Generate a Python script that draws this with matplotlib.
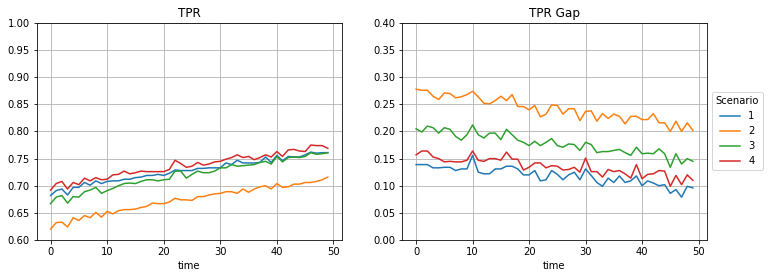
import numpy as np
import matplotlib
matplotlib.use("Agg")
import matplotlib.pyplot as plt

time = np.arange(50)
scenarios = ["1", "2", "3", "4"]

# TPR per scenario
tpr_1 = [0.682, 0.691, 0.694, 0.683, 0.697, 0.697, 0.706, 0.701, 0.709, 0.704,
         0.708, 0.709, 0.709, 0.712, 0.712, 0.715, 0.716, 0.719, 0.719, 0.721,
         0.719, 0.723, 0.729, 0.728, 0.728, 0.728, 0.732, 0.732, 0.733, 0.733,
         0.733, 0.742, 0.739, 0.747, 0.742, 0.742, 0.742, 0.743, 0.753, 0.743,
         0.756, 0.746, 0.754, 0.753, 0.753, 0.757, 0.762, 0.760, 0.761, 0.761]
tpr_2 = [0.620, 0.632, 0.633, 0.624, 0.641, 0.636, 0.645, 0.641, 0.651, 0.642,
         0.653, 0.648, 0.654, 0.656, 0.656, 0.657, 0.660, 0.662, 0.668, 0.667,
         0.667, 0.670, 0.677, 0.674, 0.674, 0.673, 0.680, 0.680, 0.683, 0.685,
         0.686, 0.689, 0.689, 0.686, 0.694, 0.688, 0.694, 0.698, 0.700, 0.694,
         0.704, 0.697, 0.698, 0.703, 0.703, 0.706, 0.706, 0.708, 0.711, 0.716]
tpr_3 = [0.667, 0.679, 0.682, 0.668, 0.680, 0.679, 0.689, 0.692, 0.697, 0.686,
         0.691, 0.695, 0.700, 0.704, 0.705, 0.704, 0.708, 0.711, 0.711, 0.709,
         0.711, 0.712, 0.727, 0.727, 0.714, 0.721, 0.727, 0.724, 0.724, 0.727,
         0.733, 0.733, 0.739, 0.736, 0.737, 0.738, 0.739, 0.743, 0.745, 0.740,
         0.754, 0.744, 0.752, 0.753, 0.752, 0.754, 0.761, 0.758, 0.759, 0.761]
tpr_4 = [0.692, 0.704, 0.708, 0.694, 0.706, 0.702, 0.714, 0.709, 0.715, 0.711,
         0.712, 0.720, 0.721, 0.727, 0.722, 0.724, 0.727, 0.726, 0.726, 0.726,
         0.726, 0.730, 0.747, 0.741, 0.734, 0.736, 0.743, 0.738, 0.740, 0.744,
         0.745, 0.749, 0.752, 0.757, 0.752, 0.754, 0.748, 0.752, 0.757, 0.753,
         0.763, 0.754, 0.766, 0.767, 0.764, 0.763, 0.775, 0.774, 0.774, 0.769]

# TPR gap per scenario
gap_1 = [0.139, 0.139, 0.139, 0.133, 0.133, 0.134, 0.134, 0.128, 0.131, 0.131,
         0.156, 0.125, 0.122, 0.122, 0.131, 0.131, 0.136, 0.136, 0.131, 0.120,
         0.120, 0.128, 0.109, 0.111, 0.128, 0.121, 0.111, 0.120, 0.125, 0.111,
         0.131, 0.119, 0.106, 0.099, 0.114, 0.106, 0.118, 0.106, 0.109, 0.118,
         0.100, 0.109, 0.105, 0.100, 0.102, 0.086, 0.093, 0.079, 0.099, 0.096]
gap_2 = [0.278, 0.276, 0.276, 0.265, 0.259, 0.271, 0.270, 0.262, 0.264, 0.268,
         0.274, 0.264, 0.252, 0.251, 0.257, 0.265, 0.257, 0.268, 0.246, 0.246,
         0.240, 0.248, 0.227, 0.232, 0.249, 0.248, 0.232, 0.242, 0.242, 0.220,
         0.237, 0.238, 0.219, 0.233, 0.224, 0.232, 0.228, 0.214, 0.228, 0.228,
         0.222, 0.222, 0.233, 0.216, 0.216, 0.200, 0.219, 0.200, 0.216, 0.202]
gap_3 = [0.205, 0.199, 0.210, 0.207, 0.197, 0.207, 0.204, 0.191, 0.184, 0.194,
         0.212, 0.194, 0.188, 0.197, 0.197, 0.185, 0.204, 0.194, 0.184, 0.180,
         0.174, 0.182, 0.174, 0.180, 0.187, 0.174, 0.171, 0.177, 0.176, 0.165,
         0.180, 0.176, 0.161, 0.163, 0.163, 0.165, 0.167, 0.161, 0.156, 0.171,
         0.159, 0.160, 0.159, 0.168, 0.159, 0.134, 0.159, 0.140, 0.150, 0.145]
gap_4 = [0.157, 0.164, 0.164, 0.153, 0.150, 0.144, 0.145, 0.144, 0.144, 0.147,
         0.164, 0.147, 0.145, 0.150, 0.150, 0.147, 0.162, 0.149, 0.149, 0.129,
         0.134, 0.142, 0.142, 0.133, 0.137, 0.136, 0.129, 0.130, 0.134, 0.125,
         0.151, 0.126, 0.126, 0.116, 0.130, 0.126, 0.128, 0.122, 0.114, 0.139,
         0.113, 0.121, 0.122, 0.128, 0.127, 0.099, 0.119, 0.102, 0.120, 0.110]

fig = plt.figure(figsize=(769 / 72, 278 / 72), dpi=72)
ax1 = fig.add_axes([0.0477, 0.1367, 0.3966, 0.7806])
ax2 = fig.add_axes([0.5231, 0.1367, 0.3959, 0.7806])

for name, vals in zip(scenarios, [tpr_1, tpr_2, tpr_3, tpr_4]):
    ax1.plot(time, vals, label=name)
for name, vals in zip(scenarios, [gap_1, gap_2, gap_3, gap_4]):
    ax2.plot(time, vals, label=name)

ax1.set_ylim(0.6, 1.0)
ax2.set_ylim(0.0, 0.4)
ax1.set_title("TPR")
ax2.set_title("TPR Gap")
for ax in (ax1, ax2):
    ax.set_xlabel("time")
    ax.set_xticks([0, 10, 20, 30, 40, 50])
    ax.yaxis.set_major_formatter(matplotlib.ticker.FormatStrFormatter("%.2f"))
    ax.grid(True)

ax2.legend(title="Scenario", loc="center left", bbox_to_anchor=(1.0, 0.5))

fig.savefig("out.png", dpi=72)
